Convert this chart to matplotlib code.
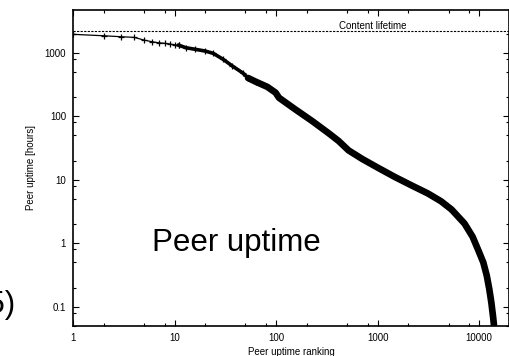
import matplotlib
matplotlib.use("Agg")
import matplotlib.pyplot as plt
from matplotlib.ticker import LogLocator, NullFormatter, FixedLocator, FixedFormatter

plt.rcParams['font.family'] = ['Liberation Sans', 'DejaVu Sans']

# peer uptime ranking (x) vs uptime in hours (y)
rank = [1, 2, 3, 4, 5, 6, 7, 8, 9, 10, 11,
        13, 16, 20, 24, 30, 37, 47, 53, 63, 82, 99, 107,
        155, 227, 330, 412, 518, 705, 1013, 1475, 2147, 3126,
        4210, 5350, 7180, 8630, 9750, 11000, 11900, 12600,
        13200, 13700, 14000]
uptime = [1946, 1848, 1783, 1744, 1582, 1488, 1435, 1404, 1369, 1335, 1310,
          1197, 1131, 1063, 979, 790, 620, 480, 400, 350, 290, 235, 195,
          128, 84, 54, 41, 29, 21.3, 15.4, 11.1, 8.2, 6.1,
          4.6, 3.41, 2.05, 1.27, 0.80, 0.50, 0.31, 0.19,
          0.117, 0.072, 0.052]
content_lifetime = 2160
n_sparse = 11   # individual '+' points
n_mid = 20      # index where the curve becomes a solid band

fig = plt.figure(figsize=(5.1, 3.56), dpi=100)
ax = fig.add_axes([73 / 510, 1 - 326 / 356, (509 - 73) / 510, (326 - 10) / 356])

ax.plot(rank[:n_sparse], uptime[:n_sparse], '-', color='black', lw=0.9,
        marker='+', ms=5, mew=0.9)
ax.plot(rank[n_sparse - 1:n_mid], uptime[n_sparse - 1:n_mid], '-', color='black',
        lw=2.6, marker='+', ms=5, mew=0.9, solid_joinstyle='round')
ax.plot(rank[n_mid - 2:], uptime[n_mid - 2:], '-', color='black', lw=4.8,
        solid_capstyle='round', solid_joinstyle='round')

ax.axhline(content_lifetime, color='black', lw=0.8, ls=(0, (2, 1.2)))
ax.annotate('Content lifetime', xy=(373, 356 - 26), xycoords='figure pixels',
            fontsize=7, ha='center', va='center')

ax.set_xscale('log')
ax.set_yscale('log')
ax.set_xlim(1, 19700)
ax.set_ylim(0.05, 4700)

ax.xaxis.set_major_locator(FixedLocator([1, 10, 100, 1000, 10000]))
ax.xaxis.set_major_formatter(FixedFormatter(['1', '10', '100', '1000', '10000']))
ax.xaxis.set_minor_locator(LogLocator(base=10, subs=(2, 5, 8)))
ax.xaxis.set_minor_formatter(NullFormatter())
ax.yaxis.set_major_locator(FixedLocator([0.1, 1, 10, 100, 1000]))
ax.yaxis.set_major_formatter(FixedFormatter(['0.1', '1', '10', '100', '1000']))
ax.yaxis.set_minor_locator(LogLocator(base=10, subs=(2, 5, 8)))
ax.yaxis.set_minor_formatter(NullFormatter())

ax.tick_params(which='both', direction='in', top=True, right=True, labelsize=7,
               width=0.8)
ax.tick_params(which='major', length=4, pad=5)
ax.tick_params(which='minor', length=2)
for s in ax.spines.values():
    s.set_linewidth(1.2)

ax.set_xlabel('Peer uptime ranking', fontsize=7, labelpad=3)
ax.set_ylabel('Peer uptime [hours]', fontsize=7, labelpad=6)

fig.text(152 / 510, 1 - 251 / 356, 'Peer uptime', fontsize=22.5,
         ha='left', va='baseline')
# partly off the left edge, as in the source image
fig.text(15.5 / 510, 1 - 313.5 / 356, '(5)', fontsize=22.5,
         ha='right', va='baseline')

fig.savefig('out.png', dpi=100)
